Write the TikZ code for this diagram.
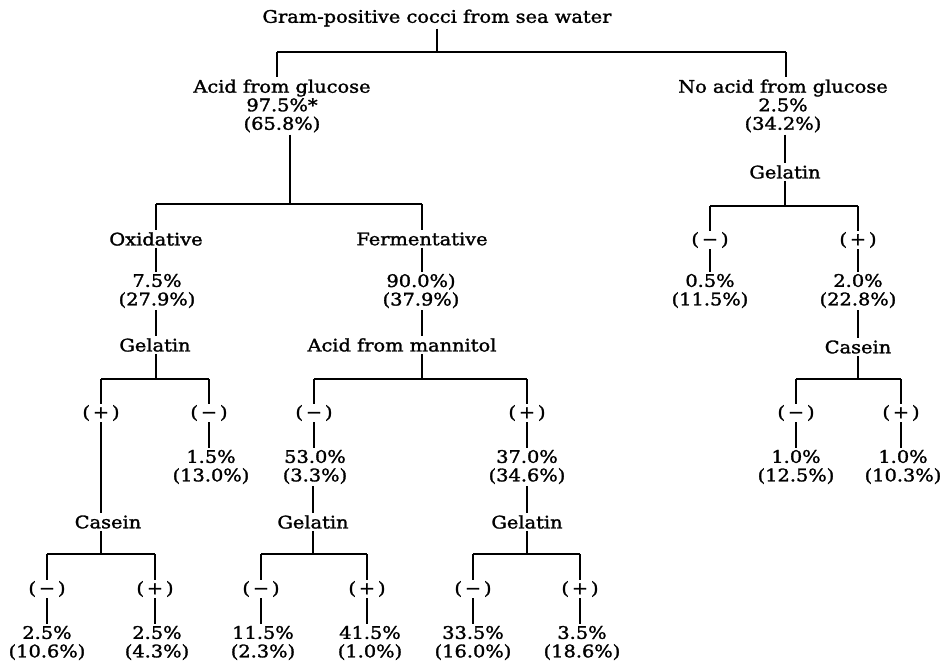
\documentclass[tikz,border=0pt]{standalone}
\usepackage{fontspec}
\setmainfont[FakeStretch=1.12,FakeBold=1.6]{DejaVu Serif}
\begin{document}
\begin{tikzpicture}[x=1pt,y=-1pt,
  every node/.style={font=\fontsize{17.3}{18.5}\selectfont, align=center, inner sep=2pt},
  sgn/.style={inner sep=1pt},
  ln/.style={line width=1.2pt}]
\useasboundingbox (0,0) rectangle (945,665);
% labels
\node (root) at (437,18) {Gram-positive cocci from sea water};
\node (AG) at (282,106) {Acid from glucose\\97.5\%*\\(65.8\%)};
\node (NAG) at (783,106) {No acid from glucose\\2.5\%\\(34.2\%)};
\node (OX) at (156,239) {Oxidative};
\node (OXN) at (157,291) {7.5\%\\(27.9\%)};
\node (OXG) at (155,345) {Gelatin};
\node (FE) at (422,239) {Fermentative};
\node (FEN) at (421,291) {90.0\%)\\(37.9\%)};
\node (AM) at (402,345) {Acid from mannitol};
\node[sgn] (s1) at (101,413) {(\,+\,)};
\node[sgn] (s2) at (209,413) {(\,−\,)};
\node[sgn] (s3) at (314,413) {(\,−\,)};
\node[sgn] (s4) at (527,413) {(\,+\,)};
\node (N2) at (211,467) {1.5\%\\(13.0\%)};
\node (N3) at (315,467) {53.0\%\\(3.3\%)};
\node (N4) at (527,467) {37.0\%\\(34.6\%)};
\node (CA) at (108,522) {Casein};
\node (G3) at (313,522) {Gelatin};
\node (G4) at (527,522) {Gelatin};
\node[sgn] (t1) at (47,589) {(\,−\,)};
\node[sgn] (t2) at (155,589) {(\,+\,)};
\node[sgn] (t3) at (261,589) {(\,−\,)};
\node[sgn] (t4) at (367,589) {(\,+\,)};
\node[sgn] (t5) at (473,589) {(\,−\,)};
\node[sgn] (t6) at (580,589) {(\,+\,)};
\node (M1) at (47,643) {2.5\%\\(10.6\%)};
\node (M2) at (157,643) {2.5\%\\(4.3\%)};
\node (M3) at (263,643) {11.5\%\\(2.3\%)};
\node (M4) at (370,643) {41.5\%\\(1.0\%)};
\node (M5) at (473,643) {33.5\%\\(16.0\%)};
\node (M6) at (582,643) {3.5\%\\(18.6\%)};
\node (RG) at (785,172) {Gelatin};
\node[sgn] (r1) at (710,240) {(\,−\,)};
\node[sgn] (r2) at (858,240) {(\,+\,)};
\node (RN1) at (710,291) {0.5\%\\(11.5\%)};
\node (RN2) at (858,291) {2.0\%\\(22.8\%)};
\node (RC) at (858,347) {Casein};
\node[sgn] (u1) at (796,413) {(\,−\,)};
\node[sgn] (u2) at (901,413) {(\,+\,)};
\node (U1) at (796,467) {1.0\%\\(12.5\%)};
\node (U2) at (903,467) {1.0\%\\(10.3\%)};
% junctions
\coordinate (c0) at (437,52); \coordinate (c0l) at (277,52); \coordinate (c0r) at (786,52);
\coordinate (c1) at (290,204); \coordinate (c1l) at (156,204); \coordinate (c1r) at (422,204);
\coordinate (c2) at (156,379); \coordinate (c2l) at (101,379); \coordinate (c2r) at (209,379);
\coordinate (c3) at (422,379); \coordinate (c3l) at (314,379); \coordinate (c3r) at (527,379);
\coordinate (c4) at (101,554); \coordinate (c4l) at (47,554); \coordinate (c4r) at (155,554);
\coordinate (c5) at (313,554); \coordinate (c5l) at (261,554); \coordinate (c5r) at (367,554);
\coordinate (c6) at (527,554); \coordinate (c6l) at (473,554); \coordinate (c6r) at (580,554);
\coordinate (c7) at (785,206); \coordinate (c7l) at (710,206); \coordinate (c7r) at (858,206);
\coordinate (c8) at (858,379); \coordinate (c8l) at (796,379); \coordinate (c8r) at (901,379);
% connectors
\begin{scope}[ln]
\draw (root.south) -- (c0); \draw (c0l) -- (c0r);
\draw (c0l) -- (c0l |- AG.north); \draw (c0r) -- (c0r |- NAG.north);
% left glucose
\draw (c1 |- AG.south) -- (c1); \draw (c1l) -- (c1r);
\draw (c1l) -- (c1l |- OX.north);
\draw (c1l |- OX.south) -- (c1l |- OXN.north);
\draw (c2 |- OXN.south) -- (c2 |- OXG.north);
\draw (c2 |- OXG.south) -- (c2); \draw (c2l) -- (c2r);
\draw (c2l) -- (s1.north); \draw (c2r) -- (s2.north);
\draw (s2.south) -- (s2.south |- N2.north);
\draw (s1.south) -- (c4 |- CA.north);
\draw (c4 |- CA.south) -- (c4); \draw (c4l) -- (c4r);
\draw (c4l) -- (t1.north); \draw (c4r) -- (t2.north);
\draw (t1.south) -- (M1.north); \draw (t2.south) -- (t2.south |- M2.north);
% fermentative
\draw (c1r) -- (c1r |- FE.north);
\draw (c1r |- FE.south) -- (c1r |- FEN.north);
\draw (c1r |- FEN.south) -- (c1r |- AM.north);
\draw (c3 |- AM.south) -- (c3); \draw (c3l) -- (c3r);
\draw (c3l) -- (s3.north); \draw (c3r) -- (s4.north);
\draw (s3.south) -- (s3.south |- N3.north);
\draw (s4.south) -- (N4.north);
\draw (c5 |- N3.south) -- (c5 |- G3.north);
\draw (c6 |- N4.south) -- (c6 |- G4.north);
\draw (c5 |- G3.south) -- (c5); \draw (c5l) -- (c5r);
\draw (c6 |- G4.south) -- (c6); \draw (c6l) -- (c6r);
\draw (c5l) -- (t3.north); \draw (c5r) -- (t4.north);
\draw (c6l) -- (t5.north); \draw (c6r) -- (t6.north);
\draw (t3.south) -- (t3.south |- M3.north); \draw (t4.south) -- (t4.south |- M4.north);
\draw (t5.south) -- (M5.north); \draw (t6.south) -- (t6.south |- M6.north);
% right
\draw (c7 |- NAG.south) -- (c7 |- RG.north);
\draw (c7 |- RG.south) -- (c7); \draw (c7l) -- (c7r);
\draw (c7l) -- (r1.north); \draw (c7r) -- (r2.north);
\draw (r1.south) -- (RN1.north); \draw (r2.south) -- (RN2.north);
\draw (c8 |- RN2.south) -- (c8 |- RC.north);
\draw (c8 |- RC.south) -- (c8); \draw (c8l) -- (c8r);
\draw (c8l) -- (u1.north); \draw (c8r) -- (u2.north);
\draw (u1.south) -- (U1.north); \draw (u2.south) -- (u2.south |- U2.north);
\end{scope}
\end{tikzpicture}
\end{document}
